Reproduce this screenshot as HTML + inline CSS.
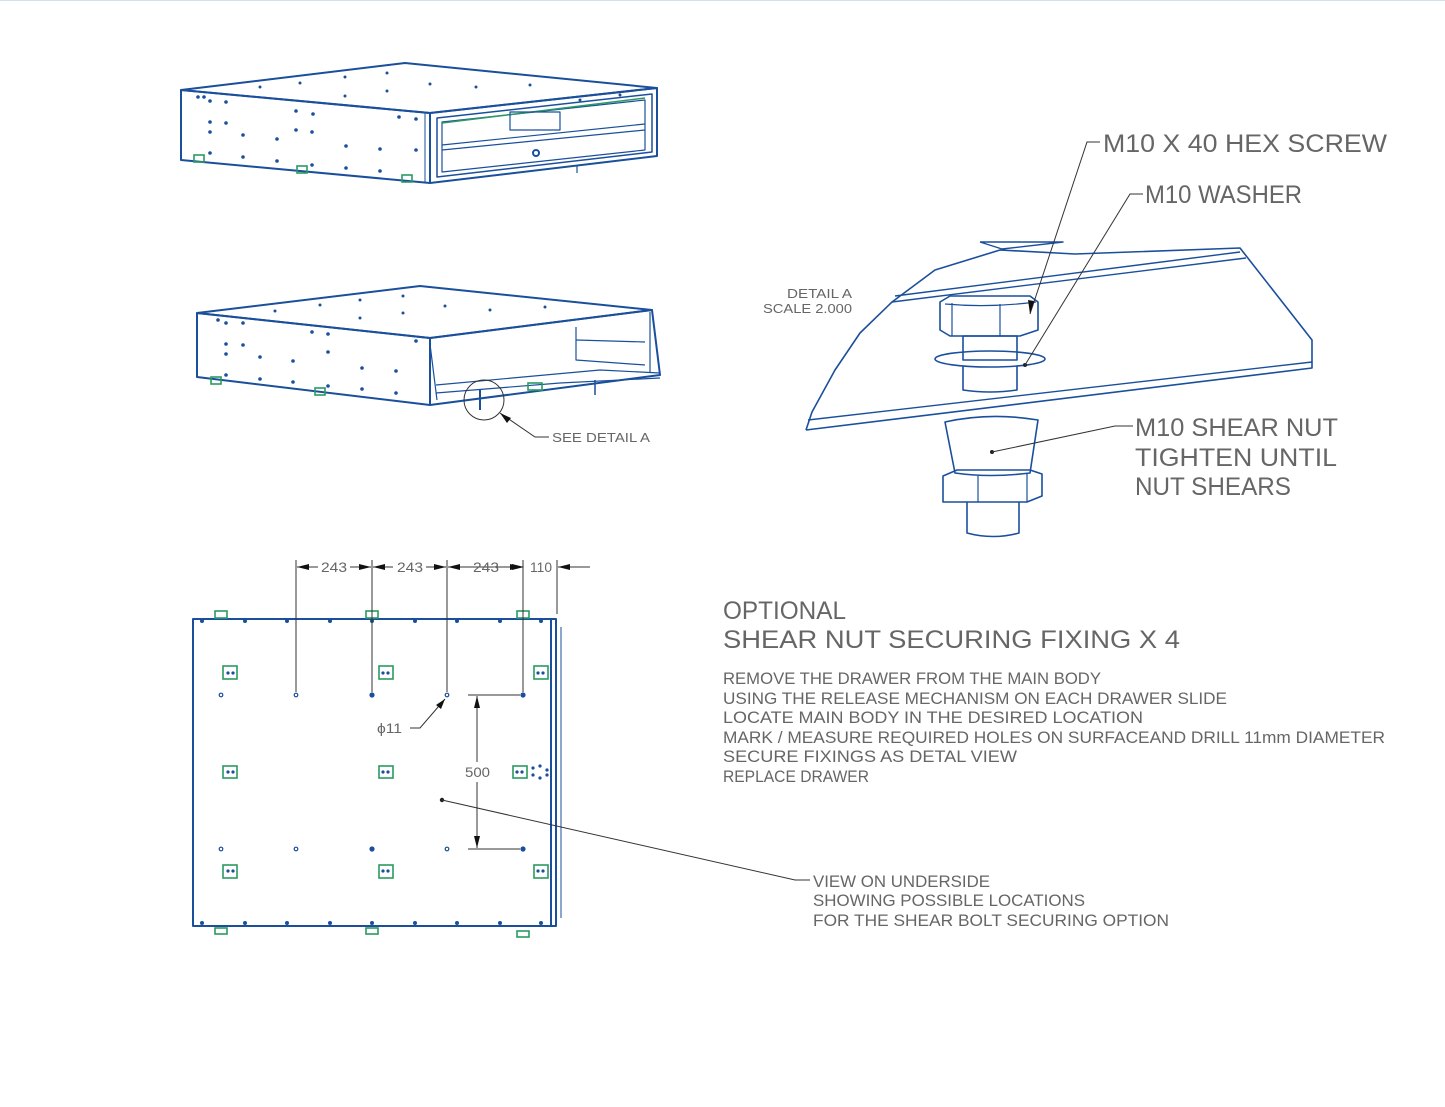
<!DOCTYPE html>
<html><head><meta charset="utf-8"><style>
html,body{margin:0;padding:0;background:#fff}
svg{display:block}
text{font-family:"Liberation Sans",sans-serif;fill:#666}
</style></head><body>
<svg width="1445" height="1107" viewBox="0 0 1445 1107" xmlns="http://www.w3.org/2000/svg">
<line x1="0" y1="0.5" x2="1445" y2="0.5" stroke="#cfe0ee" stroke-width="1"/>
<g fill="none" stroke="#1a4f9c" stroke-width="2" stroke-linejoin="round">
<polygon points="181,90 405,63 657,88 430,113"/>
<polygon points="181,90 430,113 430,183 181,160"/>
<polygon points="430,113 657,88 657,156 430,183"/>
<polygon points="437,118 652,94 652,152 437,177" stroke-width="1.5"/>
<polygon points="442,122 645,100 645,150 442,172" stroke-width="1.2"/>
<line x1="442" y1="123" x2="645" y2="98" stroke="#2a9a60" stroke-width="1.5"/>
<line x1="442" y1="145" x2="645" y2="124" stroke-width="1.2"/>
<line x1="442" y1="150" x2="645" y2="130" stroke-width="1.2"/>
<rect x="510" y="112" width="50" height="18" stroke-width="1.2"/>
<circle cx="536" cy="153" r="3"/>
<line x1="577" y1="165" x2="577" y2="173" stroke-width="1.2"/>
<line x1="425" y1="112" x2="425" y2="182" stroke-width="1"/>
<polygon points="197,313 420,286 652,310 430,338"/>
<polygon points="197,313 430,338 430,405 197,377"/>
<polyline points="430,338 652,310 660,375 430,405"/>
<polyline points="436,385 600,370 660,373" stroke-width="1.2"/>
<polyline points="436,393 560,383 660,378" stroke-width="1.2"/>
<polyline points="576,327 576,360 645,365" stroke-width="1.2"/>
<polyline points="576,340 645,342" stroke-width="1.2"/>
<line x1="430" y1="344" x2="437" y2="400" stroke-width="1.2"/>
<line x1="650" y1="312" x2="650" y2="372" stroke-width="1.2"/>
<line x1="480" y1="390" x2="480" y2="410" stroke-width="2"/>
<line x1="595" y1="380" x2="595" y2="395" stroke-width="1.5"/>
<rect x="193" y="619" width="363" height="307"/>
<line x1="551" y1="619" x2="551" y2="926"/>
<line x1="561" y1="627" x2="561" y2="918" stroke-width="1"/>
<polyline points="806,430 812,412 835,370 860,333 892,302 935,270 1000,250 1075,254 1240,248 1312,340 1312,368 806,430" stroke-width="1.6"/>
<line x1="808" y1="420" x2="1312" y2="362" stroke-width="1.4"/>
<line x1="892" y1="302" x2="1246" y2="258" stroke-width="1.4"/>
<line x1="895" y1="296" x2="1240" y2="252" stroke-width="1.4"/>
<polyline points="980,242 1063,242 1002,249 980,242" stroke-width="1.4"/>
<path d="M940,302 L950,296 L1030,296 L1038,302 L1038,330 L1020,336 L950,336 L940,330 Z" stroke-width="1.6"/>
<line x1="952" y1="303" x2="952" y2="336" stroke-width="1.2"/>
<line x1="1000" y1="304" x2="1000" y2="336" stroke-width="1.2"/>
<path d="M945,304 Q990,308 1036,302" stroke-width="1.2"/>
<rect x="963" y="336" width="54" height="24" stroke-width="1.6"/>
<ellipse cx="990" cy="359" rx="55" ry="8" stroke-width="1.6"/>
<path d="M963,366 L963,390 Q990,394 1017,390 L1017,366" stroke-width="1.6"/>
<path d="M945,422 Q990,412 1038,420 L1030,473 Q990,478 955,473 Z" stroke-width="1.6"/>
<path d="M943,476 L957,470 L1030,470 L1042,474 L1042,496 L1027,502 L943,502 Z" stroke-width="1.6"/>
<line x1="978" y1="476" x2="978" y2="502" stroke-width="1.2"/>
<line x1="1027" y1="474" x2="1027" y2="502" stroke-width="1.2"/>
<path d="M967,502 L967,533 Q993,540 1019,533 L1019,502" stroke-width="1.6"/>
</g>
<g fill="none" stroke="#2a9a60" stroke-width="1.6">
<rect x="223" y="666" width="14" height="13"/><rect x="379" y="666" width="14" height="13"/><rect x="534" y="666" width="14" height="13"/>
<rect x="223" y="766" width="14" height="12"/><rect x="379" y="766" width="14" height="12"/><rect x="513" y="766" width="14" height="12"/>
<rect x="223" y="865" width="14" height="13"/><rect x="379" y="865" width="14" height="13"/><rect x="534" y="865" width="14" height="13"/>
<rect x="215" y="611" width="12" height="7"/><rect x="366" y="611" width="12" height="7"/><rect x="517" y="611" width="12" height="7"/>
<rect x="215" y="928" width="12" height="6"/><rect x="366" y="928" width="12" height="6"/><rect x="517" y="931" width="12" height="6"/>
<rect x="194" y="155" width="10" height="7"/><rect x="297" y="166" width="10" height="7"/><rect x="402" y="175" width="10" height="7"/>
<rect x="211" y="377" width="10" height="7"/><rect x="315" y="388" width="10" height="7"/><rect x="528" y="383" width="14" height="7"/>
</g>
<g fill="#1a4f9c">
<circle cx="228" cy="673" r="1.6"/><circle cx="233" cy="673" r="1.6"/><circle cx="383" cy="673" r="1.6"/><circle cx="388" cy="673" r="1.6"/><circle cx="538" cy="673" r="1.6"/><circle cx="543" cy="673" r="1.6"/>
<circle cx="228" cy="772" r="1.6"/><circle cx="233" cy="772" r="1.6"/><circle cx="383" cy="772" r="1.6"/><circle cx="388" cy="772" r="1.6"/><circle cx="517" cy="772" r="1.6"/><circle cx="522" cy="772" r="1.6"/>
<circle cx="228" cy="871" r="1.6"/><circle cx="233" cy="871" r="1.6"/><circle cx="383" cy="871" r="1.6"/><circle cx="388" cy="871" r="1.6"/><circle cx="538" cy="871" r="1.6"/><circle cx="543" cy="871" r="1.6"/>
<circle cx="533" cy="768" r="1.6"/><circle cx="533" cy="775" r="1.6"/><circle cx="540" cy="766" r="1.6"/><circle cx="540" cy="778" r="1.6"/><circle cx="547" cy="770" r="1.6"/><circle cx="547" cy="775" r="1.6"/>
<circle cx="202" cy="621" r="2"/><circle cx="245" cy="621" r="2"/><circle cx="287" cy="621" r="2"/><circle cx="330" cy="621" r="2"/><circle cx="372" cy="621" r="2"/><circle cx="415" cy="621" r="2"/><circle cx="457" cy="621" r="2"/><circle cx="500" cy="621" r="2"/><circle cx="541" cy="621" r="2"/>
<circle cx="202" cy="923" r="2"/><circle cx="245" cy="923" r="2"/><circle cx="287" cy="923" r="2"/><circle cx="330" cy="923" r="2"/><circle cx="372" cy="923" r="2"/><circle cx="415" cy="923" r="2"/><circle cx="457" cy="923" r="2"/><circle cx="500" cy="923" r="2"/><circle cx="541" cy="923" r="2"/>
<circle cx="372" cy="695" r="2.6"/><circle cx="523" cy="695" r="2.6"/><circle cx="372" cy="849" r="2.6"/><circle cx="523" cy="849" r="2.6"/>
<circle cx="198" cy="97" r="1.8"/><circle cx="204" cy="97" r="1.8"/><circle cx="210" cy="101" r="1.8"/><circle cx="226" cy="102" r="1.8"/><circle cx="210" cy="122" r="1.8"/><circle cx="226" cy="123" r="1.8"/><circle cx="210" cy="132" r="1.8"/><circle cx="243" cy="135" r="1.8"/><circle cx="277" cy="139" r="1.8"/><circle cx="296" cy="130" r="1.8"/><circle cx="312" cy="132" r="1.8"/><circle cx="296" cy="111" r="1.8"/><circle cx="313" cy="114" r="1.8"/><circle cx="346" cy="146" r="1.8"/><circle cx="380" cy="149" r="1.8"/><circle cx="399" cy="117" r="1.8"/><circle cx="416" cy="119" r="1.8"/><circle cx="416" cy="150" r="1.8"/><circle cx="210" cy="153" r="1.8"/><circle cx="243" cy="157" r="1.8"/><circle cx="277" cy="161" r="1.8"/><circle cx="312" cy="165" r="1.8"/><circle cx="346" cy="168" r="1.8"/><circle cx="380" cy="171" r="1.8"/>
<circle cx="260" cy="87" r="1.5"/><circle cx="300" cy="83" r="1.5"/><circle cx="345" cy="77" r="1.5"/><circle cx="387" cy="73" r="1.5"/><circle cx="345" cy="96" r="1.5"/><circle cx="387" cy="91" r="1.5"/><circle cx="430" cy="84" r="1.5"/><circle cx="476" cy="87" r="1.5"/><circle cx="530" cy="85" r="1.5"/><circle cx="580" cy="100" r="1.5"/><circle cx="620" cy="95" r="1.5"/>
<circle cx="218" cy="320" r="1.8"/><circle cx="226" cy="323" r="1.8"/><circle cx="243" cy="323" r="1.8"/><circle cx="226" cy="344" r="1.8"/><circle cx="243" cy="345" r="1.8"/><circle cx="226" cy="354" r="1.8"/><circle cx="260" cy="357" r="1.8"/><circle cx="293" cy="361" r="1.8"/><circle cx="312" cy="332" r="1.8"/><circle cx="328" cy="334" r="1.8"/><circle cx="328" cy="352" r="1.8"/><circle cx="362" cy="368" r="1.8"/><circle cx="396" cy="371" r="1.8"/><circle cx="416" cy="341" r="1.8"/><circle cx="226" cy="375" r="1.8"/><circle cx="260" cy="379" r="1.8"/><circle cx="293" cy="382" r="1.8"/><circle cx="328" cy="386" r="1.8"/><circle cx="362" cy="389" r="1.8"/><circle cx="396" cy="393" r="1.8"/>
<circle cx="275" cy="311" r="1.5"/><circle cx="320" cy="305" r="1.5"/><circle cx="360" cy="300" r="1.5"/><circle cx="403" cy="296" r="1.5"/><circle cx="360" cy="318" r="1.5"/><circle cx="403" cy="313" r="1.5"/><circle cx="445" cy="306" r="1.5"/><circle cx="490" cy="310" r="1.5"/><circle cx="545" cy="307" r="1.5"/>
<circle cx="442" cy="800" r="2.2" fill="#222"/><circle cx="992" cy="452" r="2" fill="#222"/><circle cx="1025" cy="365" r="2" fill="#222"/>
</g>
<g fill="#fff" stroke="#1a4f9c" stroke-width="1.2">
<circle cx="221" cy="695" r="1.8"/><circle cx="296" cy="695" r="1.8"/><circle cx="447" cy="695" r="1.8"/>
<circle cx="221" cy="849" r="1.8"/><circle cx="296" cy="849" r="1.8"/><circle cx="447" cy="849" r="1.8"/>
</g>
<g stroke="#333" stroke-width="1" fill="none">
<line x1="296" y1="560" x2="296" y2="692"/><line x1="372" y1="560" x2="372" y2="692"/><line x1="447" y1="560" x2="447" y2="692"/><line x1="523" y1="560" x2="523" y2="692"/><line x1="557" y1="560" x2="557" y2="614"/>
<line x1="297" y1="567" x2="318" y2="567"/><line x1="350" y1="567" x2="371" y2="567"/><line x1="373" y1="567" x2="393" y2="567"/><line x1="426" y1="567" x2="446" y2="567"/><line x1="448" y1="567" x2="522" y2="567"/><line x1="558" y1="567" x2="590" y2="567"/>
<line x1="468" y1="695" x2="520" y2="695"/><line x1="468" y1="849" x2="520" y2="849"/>
<line x1="477" y1="696" x2="477" y2="762"/><line x1="477" y1="782" x2="477" y2="848"/>
<polyline points="410,728 420,728 445,699"/>
<polyline points="442,800 795,880 810,880"/>
<circle cx="484" cy="400" r="20"/>
<polyline points="500,413 535,437 549,437"/>
<polyline points="1100,142 1087,142 1030,314"/>
<polyline points="1143,194 1130,194 1025,365"/>
<polyline points="1133,426 1115,426 992,452"/>
</g>
<g fill="#111">
<polygon points="297,567 309,564 309,570"/><polygon points="371,567 359,564 359,570"/><polygon points="373,567 385,564 385,570"/><polygon points="446,567 434,564 434,570"/><polygon points="448,567 460,564 460,570"/><polygon points="522,567 510,564 510,570"/><polygon points="524,567 512,564 512,570"/><polygon points="558,567 570,564 570,570"/>
<polygon points="477,696 474,708 480,708"/><polygon points="477,848 474,836 480,836"/>
<polygon points="445,699 436,705 441,709"/>
<polygon points="500,413 507,423 511,418"/>
<polygon points="1030,314 1028,300 1034,301"/>
</g>
<g font-size="14">
<text x="321" y="572" textLength="26" lengthAdjust="spacingAndGlyphs">243</text>
<text x="397" y="572" textLength="26" lengthAdjust="spacingAndGlyphs">243</text>
<text x="473" y="572" textLength="26" lengthAdjust="spacingAndGlyphs">243</text>
<text x="530" y="572" textLength="22" lengthAdjust="spacingAndGlyphs">110</text>
<text x="465" y="777" textLength="25" lengthAdjust="spacingAndGlyphs">500</text>
<text x="377" y="733" textLength="25" lengthAdjust="spacingAndGlyphs">ϕ11</text>
<text x="552" y="442" font-size="13" textLength="98" lengthAdjust="spacingAndGlyphs">SEE DETAIL A</text>
<text x="787" y="298" font-size="13" textLength="65" lengthAdjust="spacingAndGlyphs">DETAIL A</text>
<text x="763" y="313" font-size="13" textLength="89" lengthAdjust="spacingAndGlyphs">SCALE 2.000</text>
</g>
<g font-size="25">
<text x="1103" y="152" textLength="284" lengthAdjust="spacingAndGlyphs">M10 X 40 HEX SCREW</text>
<text x="1145" y="203" textLength="157" lengthAdjust="spacingAndGlyphs">M10 WASHER</text>
<text x="1135" y="436" textLength="203" lengthAdjust="spacingAndGlyphs">M10 SHEAR NUT</text>
<text x="1135" y="466" textLength="202" lengthAdjust="spacingAndGlyphs">TIGHTEN UNTIL</text>
<text x="1135" y="495" textLength="156" lengthAdjust="spacingAndGlyphs">NUT SHEARS</text>
<text x="723" y="619" textLength="123" lengthAdjust="spacingAndGlyphs">OPTIONAL</text>
<text x="723" y="648" textLength="457" lengthAdjust="spacingAndGlyphs">SHEAR NUT SECURING FIXING X 4</text>
</g>
<g font-size="17">
<text x="723" y="684" textLength="378" lengthAdjust="spacingAndGlyphs">REMOVE THE DRAWER FROM THE MAIN BODY</text>
<text x="723" y="704" textLength="504" lengthAdjust="spacingAndGlyphs">USING THE RELEASE MECHANISM ON EACH DRAWER SLIDE</text>
<text x="723" y="723" textLength="420" lengthAdjust="spacingAndGlyphs">LOCATE MAIN BODY IN THE DESIRED LOCATION</text>
<text x="723" y="743" textLength="662" lengthAdjust="spacingAndGlyphs">MARK / MEASURE REQUIRED HOLES ON SURFACEAND DRILL 11mm DIAMETER</text>
<text x="723" y="762" textLength="294" lengthAdjust="spacingAndGlyphs">SECURE FIXINGS AS DETAL VIEW</text>
<text x="723" y="782" textLength="146" lengthAdjust="spacingAndGlyphs">REPLACE DRAWER</text>
<text x="813" y="887" textLength="177" lengthAdjust="spacingAndGlyphs">VIEW ON UNDERSIDE</text>
<text x="813" y="906" textLength="272" lengthAdjust="spacingAndGlyphs">SHOWING POSSIBLE LOCATIONS</text>
<text x="813" y="926" textLength="356" lengthAdjust="spacingAndGlyphs">FOR THE SHEAR BOLT SECURING OPTION</text>
</g>
</svg>
</body></html>
